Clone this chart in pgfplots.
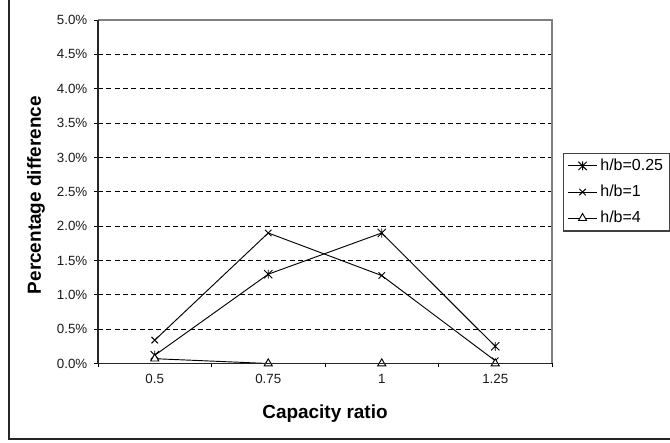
\documentclass[border=0pt]{standalone}
\usepackage{fontspec}
\setmainfont{Liberation Sans}
\usepackage{pgfplots}
\pgfplotsset{compat=1.18}
\pgfdeclareplotmark{xstar}{%
  \pgfpathmoveto{\pgfqpoint{-\pgfplotmarksize}{-\pgfplotmarksize}}%
  \pgfpathlineto{\pgfqpoint{\pgfplotmarksize}{\pgfplotmarksize}}%
  \pgfpathmoveto{\pgfqpoint{-\pgfplotmarksize}{\pgfplotmarksize}}%
  \pgfpathlineto{\pgfqpoint{\pgfplotmarksize}{-\pgfplotmarksize}}%
  \pgfpathmoveto{\pgfqpoint{0pt}{-1.1\pgfplotmarksize}}%
  \pgfpathlineto{\pgfqpoint{0pt}{1.1\pgfplotmarksize}}%
  \pgfusepathqstroke}
\begin{document}
\begin{tikzpicture}
\useasboundingbox (0,0) rectangle (502.5pt,331.5pt);
\draw[black!85, line width=1pt] (6.75pt,2.25pt) rectangle (515pt,345pt);
\begin{axis}[
  at={(73.5pt,58.875pt)}, anchor=south west,
  scale only axis, width=340.5pt, height=257.6pt,
  xmin=-0.5, xmax=3.5, ymin=0, ymax=5,
  xtick={-0.5,0.5,1.5,2.5,3.5}, xticklabels={},
  extra x ticks={0,1,2,3},
  extra x tick labels={0.5,0.75,1,1.25},
  extra x tick style={major tick length=0pt, grid=none},
  xtick pos=bottom, ytick pos=left,
  ytick={0,0.5,...,5},
  yticklabel={\pgfmathprintnumber[fixed,fixed zerofill,precision=1]{\tick}\%},
  /pgf/number format/assume math mode=true,
  tick align=outside, major tick length=3pt,
  tick style={black, line width=0.7pt},
  ymajorgrids, major grid style={black, dash pattern=on 3.75pt off 2.5pt, line width=0.6pt},
  axis line style={draw=none},
  ticklabel style={font=\fontsize{10}{12}\selectfont, text=black!90},
  xticklabel style={yshift=-4.5pt},
  yticklabel style={xshift=-1.5pt},
  xlabel={Capacity ratio},
  ylabel={Percentage difference},
  xlabel style={font=\fontsize{14.2}{16}\selectfont\bfseries, at={(axis description cs:0.5,-0.147)}, anchor=center},
  ylabel style={font=\fontsize{14.2}{16}\selectfont\bfseries, at={(axis description cs:-0.1366,0.49)}, anchor=center},
  legend style={at={(axis description cs:1.024,0.614)}, anchor=north west, draw=black!75, line width=0.8pt, fill=white,
    font=\fontsize{12}{14}\selectfont, row sep=5.4pt, inner xsep=3pt, inner ysep=2.5pt, cells={anchor=west}},
  legend image code/.code={\draw[line width=0.7pt, mark repeat=2,mark phase=2] plot coordinates {(0pt,0pt) (11pt,0pt) (22pt,0pt)};},
  every axis plot/.append style={black, line width=0.7pt, mark size=3.3pt, mark options={solid}},
  after end axis/.code={
    \draw[black!50, line width=1.1pt] (rel axis cs:0,1) -- (rel axis cs:1,1) -- (rel axis cs:1,0);
    \draw[black!85, line width=1.3pt] (rel axis cs:0,1) -- (rel axis cs:0,0) -- (rel axis cs:1,0);
  },
  clip=false,
]
\addplot[mark=xstar, mark size=3.1pt] coordinates {(0,0.12) (1,1.30) (2,1.90) (3,0.25)};
\addlegendentry{h/b=0.25}
\addplot[mark=x, mark size=3.4pt] coordinates {(0,0.34) (1,1.90) (2,1.28) (3,0.04)};
\addlegendentry{h/b=1}
\addplot[mark=triangle*, mark size=3.5pt, mark options={fill=white}] coordinates {(0,0.07) (1,0) (2,0) (3,0)};
\addlegendentry{h/b=4}
\end{axis}
\end{tikzpicture}
\end{document}
